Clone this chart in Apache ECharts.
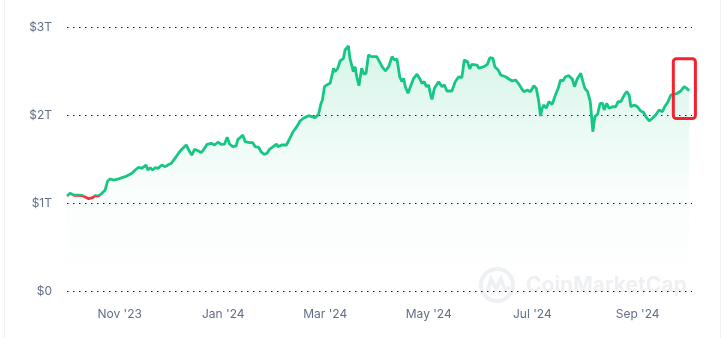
<!DOCTYPE html>
<html>
<head>
<meta charset="utf-8">
<script src="https://cdn.jsdelivr.net/npm/echarts@6/dist/echarts.min.js"></script>
<style>
html,body{margin:0;padding:0;background:#fff;}
#frame{position:absolute;left:4px;top:0;width:717px;height:338px;border-left:1px solid #eef1f5;border-right:1px solid #eef1f5;box-sizing:border-box;}
#chart{position:absolute;left:0;top:0;width:725px;height:338px;}
</style>
</head>
<body>
<div id="frame"></div>
<div id="chart"></div>
<script>
// ---- data ----
const startDate = '2023-10-01';
const axisEndDate = '2024-10-03';
// days after startDate for each point
const dayOffset = [0,1.8,4.1,6.5,8.8,9.8,12.8,15.1,16.6,18.6,20.6,22.5,23.9,25.5,27.5,30.4,32.4,33.4,34.3,36.3,38.2,40.2,42.2,44.1,45.1,46.5,47.6,49.0,50.4,51.9,53.5,55.9,57.8,59.4,61.4,64.3,66.3,68.2,70.2,72.2,73.5,75.1,77.1,79.0,80.6,82.5,84.9,86.9,88.8,90.8,92.8,94.3,95.7,97.6,99.6,100.6,102.2,103.5,104.9,107.5,109.4,110.8,112.8,114.3,115.9,117.8,119.2,121.4,123.4,124.3,126.3,129.2,131.2,133.1,135.3,137.2,139.2,140.2,142.2,144.1,146.1,148.1,149.6,150.4,151.6,152.9,154.9,156.3,156.9,157.8,159.4,160.8,162.8,163.7,165.7,166.6,167.6,168.6,169.6,170.6,171.9,173.5,174.9,176.1,177.5,179.4,182.4,183.5,185.5,187.5,189.4,191.4,192.8,194.3,195.9,197.2,198.2,199.2,200.8,202.2,204.1,206.1,208.1,209.0,210.4,211.6,212.9,213.9,214.9,216.3,218.8,220.8,222.2,223.7,226.6,228.6,230.6,232.5,233.9,235.9,237.1,238.4,241.4,242.5,245.5,247.5,249.0,250.8,251.9,253.9,255.3,258.2,260.2,262.2,264.1,265.7,267.6,269.0,271.0,272.9,274.9,276.3,277.8,278.8,279.8,280.8,282.2,283.7,285.7,287.6,289.2,290.6,291.9,293.5,295.5,297.5,298.8,300.4,302.5,303.5,304.9,306.5,308.1,308.8,309.6,310.8,312.4,313.9,315.3,316.3,317.8,319.2,321.2,323.1,324.5,326.1,328.1,329.6,331.0,332.0,334.0,335.9,337.8,339.4,340.8,342.8,344.7,346.6,348.6,350.6,351.9,353.9,355.5,357.5,359.4,361.4,363.4,364.9,366.3];
// market cap in trillions of USD
const capT = [1.080,1.110,1.088,1.088,1.085,1.068,1.049,1.060,1.083,1.080,1.110,1.148,1.250,1.273,1.261,1.273,1.288,1.310,1.299,1.318,1.338,1.375,1.406,1.394,1.375,1.432,1.375,1.401,1.375,1.401,1.394,1.432,1.413,1.432,1.451,1.526,1.583,1.622,1.659,1.583,1.545,1.610,1.594,1.572,1.610,1.667,1.678,1.659,1.690,1.667,1.670,1.747,1.670,1.640,1.648,1.724,1.747,1.773,1.697,1.685,1.685,1.640,1.633,1.583,1.553,1.565,1.610,1.640,1.670,1.640,1.659,1.659,1.735,1.810,1.867,1.932,1.963,1.943,1.992,1.981,1.969,2.008,2.133,2.170,2.322,2.341,2.360,2.474,2.531,2.492,2.531,2.614,2.644,2.739,2.784,2.644,2.625,2.492,2.549,2.435,2.333,2.531,2.463,2.474,2.682,2.663,2.663,2.663,2.549,2.500,2.549,2.663,2.625,2.636,2.435,2.378,2.417,2.322,2.247,2.322,2.417,2.463,2.398,2.360,2.378,2.322,2.341,2.247,2.178,2.303,2.378,2.322,2.341,2.273,2.273,2.378,2.435,2.424,2.625,2.606,2.523,2.576,2.568,2.531,2.549,2.576,2.651,2.644,2.549,2.511,2.455,2.435,2.409,2.386,2.398,2.360,2.303,2.265,2.284,2.265,2.333,2.303,2.151,1.989,2.076,2.114,2.076,2.151,2.122,2.227,2.303,2.398,2.386,2.435,2.447,2.409,2.322,2.409,2.474,2.398,2.303,2.265,2.151,2.000,1.810,1.981,2.008,2.133,2.133,2.057,2.133,2.076,2.094,2.094,2.151,2.151,2.227,2.265,2.227,2.094,2.114,2.094,2.045,2.031,1.981,1.932,1.963,2.000,2.057,2.038,2.094,2.151,2.227,2.235,2.247,2.273,2.322,2.303,2.276];
const tickDates = ['2023-11-01','2024-01-01','2024-03-01','2024-05-01','2024-07-01','2024-09-01'];
const tickLabels = ["Nov '23","Jan '24","Mar '24","May '24","Jul '24","Sep '24"];
const yTicks = [0,1,2,3];
const yLabels = ['$0','$1T','$2T','$3T'];
const baselineT = 1.075; // below this the line turns red
// highlight box (data coordinates)
const boxDates = ['2024-09-22','2024-10-05'];
const boxValues = [1.96, 2.64];

// ---- helpers: x axis is measured in days after startDate ----
const DAY = 86400000;
function toTs(s){ const p = s.split('-').map(Number); return Date.UTC(p[0], p[1]-1, p[2]); }
const startTs = toTs(startDate);
function toDay(s){ return (toTs(s) - startTs) / DAY; }
const tickDays = tickDates.map(toDay);
const seriesData = dayOffset.map((o,i)=>[o, capT[i]]);

const GREEN = '#16c784', RED = '#ea3943', LABEL = '#616e85', FONT = 'Inter';
const WM = '#eef0f3';
const watermark = [
  {type:'circle', z:-1, shape:{cx:497, cy:285, r:16}, style:{fill:'none', stroke:WM, lineWidth:4}},
  {type:'polyline', z:-1, shape:{points:[[487,292],[491,279],[496,289],[501,279],[505,290],[510,287]]}, style:{fill:'none', stroke:WM, lineWidth:3.5}},
  {type:'text', z:-1, style:{text:'CoinMarketCap', x:526, y:286, verticalAlign:'middle', font:'bold 21px Inter', fill:WM}}
];
const chart = echarts.init(document.getElementById('chart'), null, {renderer:'canvas'});
chart.setOption({
  animation: false,
  grid: {left: 67, right: 33, top: 27, bottom: 47},
  xAxis: {
    type: 'value',
    min: 0,
    max: toDay(axisEndDate),
    axisLine: {show: false},
    axisTick: {show: false},
    splitLine: {show: false},
    axisLabel: {
      customValues: tickDays,
      formatter: function(v){ const i = tickDays.indexOf(v); return i >= 0 ? tickLabels[i] : ''; },
      color: LABEL, fontSize: 12, fontFamily: FONT, margin: 17
    }
  },
  yAxis: {
    type: 'value',
    min: 0, max: 3, interval: 1,
    axisLine: {show: false},
    axisTick: {show: false},
    axisLabel: {
      formatter: function(v){ const i = yTicks.indexOf(v); return i >= 0 ? yLabels[i] : ''; },
      color: LABEL, fontSize: 12, fontFamily: FONT, margin: 15
    },
    splitLine: {show: true, lineStyle: {color: '#111', width: 1, type: [1.5, 4.5]}}
  },
  visualMap: {
    show: false, type: 'piecewise', seriesIndex: 0, dimension: 1,
    pieces: [{gte: 0, lt: baselineT, color: RED}, {gte: baselineT, lte: 3, color: GREEN}],
    outOfRange: {color: GREEN}
  },
  graphic: watermark,
  series: [{
    type: 'line',
    data: seriesData,
    showSymbol: false,
    symbol: 'none',
    lineStyle: {width: 2.8},
    areaStyle: {
      color: new echarts.graphic.LinearGradient(0, 0, 0, 1, [
        {offset: 0, color: 'rgba(22,199,132,0.25)'},
        {offset: 0.6, color: 'rgba(22,199,132,0.03)'},
        {offset: 1, color: 'rgba(22,199,132,0)'}
      ])
    },
    z: 3
  }]
});

// red highlight box anchored to data coordinates
const p1 = chart.convertToPixel({gridIndex: 0}, [toDay(boxDates[0]), boxValues[1]]);
const p2 = chart.convertToPixel({gridIndex: 0}, [toDay(boxDates[1]), boxValues[0]]);
chart.setOption({
  graphic: watermark.concat([
    {type:'rect', z:10, shape:{x:p1[0], y:p1[1], width:p2[0]-p1[0], height:p2[1]-p1[1], r:3},
     style:{fill:'none', stroke:'#f5222d', lineWidth:3}}
  ])
});
</script>
</body>
</html>
